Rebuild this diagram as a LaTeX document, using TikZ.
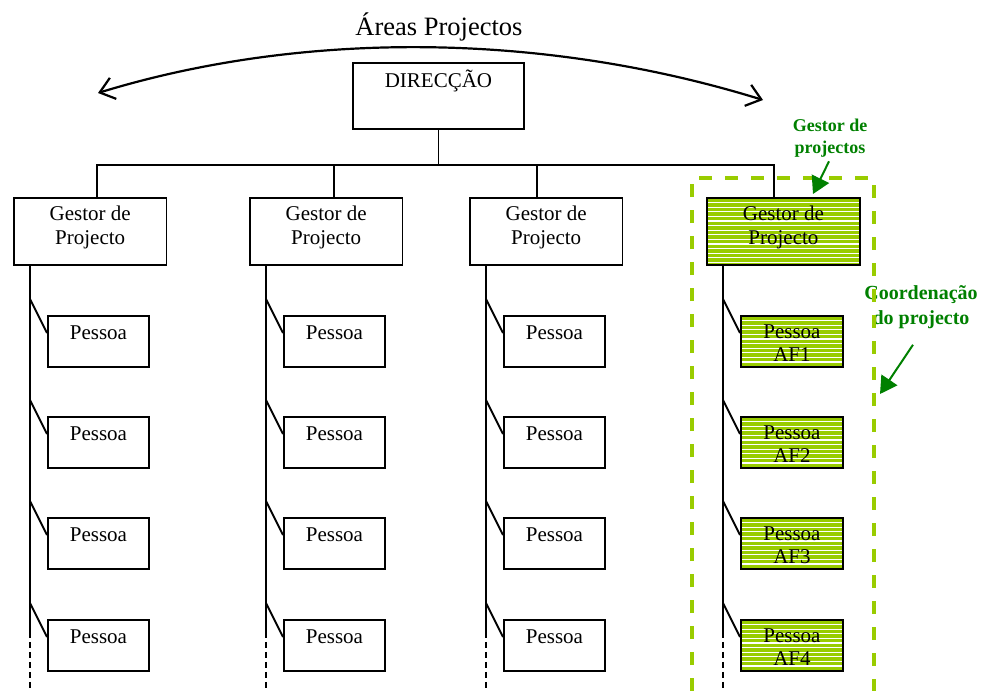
\documentclass[tikz,border=0pt]{standalone}
\usepackage{fontspec}
\setmainfont{Liberation Serif}
\usetikzlibrary{arrows.meta,calc}

\definecolor{leaf}{HTML}{99CC00}
\definecolor{deepgreen}{HTML}{008000}

\begin{document}
\begin{tikzpicture}[
  x=1pt, y=-1pt,
  box/.style={draw=black, line width=1.9pt, rectangle, inner sep=0pt, anchor=north west},
  striped/.style={box, path picture={
      \fill[leaf] (path picture bounding box.south west) rectangle (path picture bounding box.north east);
      \foreach \k in {1,...,16}
        \draw[white, line width=1.2pt]
          ([yshift=-\k*4.6pt]path picture bounding box.north west) --
          ([yshift=-\k*4.6pt]path picture bounding box.north east);
    }},
  txt/.style={inner sep=0pt, font=\fontsize{21}{24}\selectfont},
  txtaf/.style={inner sep=0pt, align=center, font=\fontsize{21}{23}\selectfont},
  titletxt/.style={inner sep=0pt, font=\fontsize{26.5}{30}\selectfont},
  conn/.style={draw=black, line width=1.9pt},
  tail/.style={draw=black, line width=1.9pt, dash pattern=on 6pt off 4pt},
  arc/.style={draw=black, line width=2.2pt,
    {Straight Barb[length=14pt,width=22pt]}-{Straight Barb[length=14pt,width=22pt]}},
  zone/.style={draw=leaf, line width=4pt, dash pattern=on 13pt off 13pt},
  notesmall/.style={inner sep=0pt, align=center, text=deepgreen,
    font=\fontsize{18}{22}\selectfont\bfseries},
  notebig/.style={inner sep=0pt, align=center, text=deepgreen,
    font=\fontsize{20}{25}\selectfont\bfseries},
  pointer/.style={draw=deepgreen, line width=2pt, -{Triangle[length=17pt,width=19pt]}}
]
\useasboundingbox (0,0) rectangle (986,691);

% heading and the double-headed arc over the direction box
\node[titletxt, anchor=base] (title) at (439,35) {Áreas Projectos};
\coordinate (arcL) at (98,93);
\coordinate (arcR) at (763,100);
\draw[arc] (arcL) .. controls (300,31) and (540,31) .. (arcR);

% top box
\node[box, minimum width=171pt, minimum height=66pt] (dir) at (352,62) {};
\node[txt, anchor=base] (dirt) at ($(dir.north)+(0,25)$) {DIRECÇÃO};

% white project columns
\foreach \i/\gx in {1/13,2/249,3/469} {
  \node[box, minimum width=152.5pt, minimum height=67pt] (g\i) at (\gx,197) {};
  \node[txt, align=center, anchor=north] (gt\i) at ($(g\i.north)+(0,8.5)$) {Gestor de\\Projecto};
  \draw[conn] ($(g\i.south west)+(17,0)$) -- ++(0,366) coordinate (sp\i);
  \draw[tail] (sp\i) -- ++(0,61);
  \foreach \r/\py in {1/315,2/416,3/517,4/619} {
    \node[box, minimum width=101pt, minimum height=51pt] (p\i\r) at (\gx+34,\py) {};
    \node[txt, anchor=base] (pt\i\r) at ($(p\i\r.north)+(0,24)$) {Pessoa};
    \draw[conn] ($(p\i\r.north west)+(-17,-16)$) -- ($(p\i\r.north west)+(0,18)$);
  }
}

% highlighted project column
\node[striped, minimum width=153pt, minimum height=67pt] (g4) at (706,197) {};
\node[txt, align=center, anchor=north] (gt4) at ($(g4.north)+(0,8.5)$) {Gestor de\\Projecto};
\draw[conn] ($(g4.south west)+(17,0)$) -- ++(0,366) coordinate (sp4);
\draw[tail] (sp4) -- ++(0,61);
\foreach \r/\py in {1/315,2/416,3/517,4/619} {
  \node[striped, minimum width=102pt, minimum height=51pt] (q\r) at (740,\py) {};
  \node[txtaf, anchor=north] (qt\r) at ($(q\r.north)+(0,10)$) {Pessoa\\AF\r};
  \draw[conn] ($(q\r.north west)+(-17,-16)$) -- ($(q\r.north west)+(0,18)$);
}

% tree connectors from the top box
\coordinate (bus) at ($(dir.south)+(0,35)$);
\draw[conn] (dir.south) -- (bus);
\draw[conn] ($(g1.north west)+(84,0)$) |- (bus);
\draw[conn] ($(g2.north west)+(85,0)$) |- (bus);
\draw[conn] ($(g3.north west)+(68,0)$) |- (bus);
\draw[conn] ($(g4.north west)+(68,0)$) |- (bus);

% green notes
\node[notesmall] (gp) at (830,138) {Gestor de\\projectos};
\node[notebig] (cp) at (921,307) {Coordenação\\do projecto};

% dashed coordination zone
\draw[zone] (692,691) -- (692,178) -- (874,178) -- (874,691);

% pointers
\coordinate (gptip) at (813,194);
\coordinate (cptip) at (880,394);
\draw[pointer] ($(gp.south)+(-1,4)$) -- (gptip);
\draw[pointer] ($(cp.south)+(-8,16)$) -- (cptip);
\end{tikzpicture}
\end{document}
